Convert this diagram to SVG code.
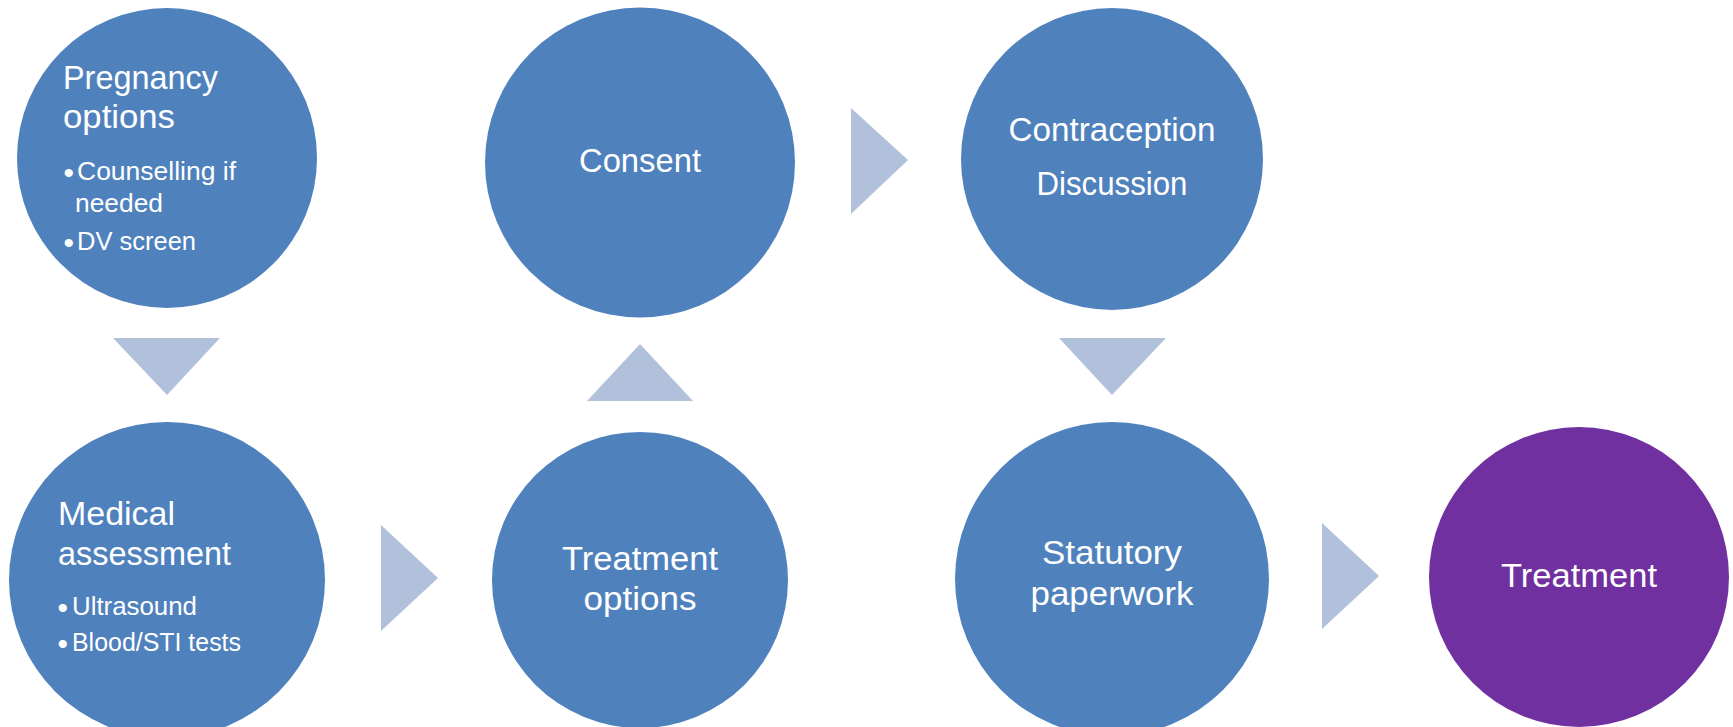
<svg xmlns="http://www.w3.org/2000/svg" width="1733" height="727" viewBox="0 0 1733 727">
<style>
.node{fill:#4F81BD}
.final{fill:#7030A0}
.arrow{fill:#B2C1DB}
text{font-family:"Liberation Sans",Arial,sans-serif;fill:#FFFFFF}
.t{font-size:33px}
.b{font-size:25px}
.dot{font-size:30px}
.c{text-anchor:middle}
</style>
<rect width="1733" height="727" fill="#FFFFFF"/>
<g id="connectors">
<polygon class="arrow" points="113,338 220,338 167,395"/>
<polygon class="arrow" points="381,525 381,631 438,578"/>
<polygon class="arrow" points="587,401 693,401 640,344"/>
<polygon class="arrow" points="851,108 851,214 908,160"/>
<polygon class="arrow" points="1059,338 1166,338 1112,395"/>
<polygon class="arrow" points="1322,523 1322,629 1379,576"/>
</g>
<g id="pregnancy-options">
<circle class="node" cx="167" cy="158" r="150"/>
<text class="t" x="63" y="89" textLength="155" lengthAdjust="spacingAndGlyphs">Pregnancy</text>
<text class="t" x="63" y="128" textLength="112" lengthAdjust="spacingAndGlyphs">options</text>
<text class="b" x="63.5" y="182.5"><tspan class="dot">•</tspan><tspan x="77" y="180" textLength="159" lengthAdjust="spacingAndGlyphs">Counselling if</tspan></text>
<text class="b" x="75" y="212" textLength="88" lengthAdjust="spacingAndGlyphs">needed</text>
<text class="b" x="63.5" y="252.5"><tspan class="dot">•</tspan><tspan x="77" y="250" textLength="119" lengthAdjust="spacingAndGlyphs">DV screen</tspan></text>
</g>
<g id="medical-assessment">
<circle class="node" cx="167" cy="580" r="158"/>
<text class="t" x="58" y="525" textLength="117" lengthAdjust="spacingAndGlyphs">Medical</text>
<text class="t" x="58" y="565" textLength="173" lengthAdjust="spacingAndGlyphs">assessment</text>
<text class="b" x="57.5" y="617.5"><tspan class="dot">•</tspan><tspan x="72" y="615" textLength="125" lengthAdjust="spacingAndGlyphs">Ultrasound</tspan></text>
<text class="b" x="57.5" y="653.5"><tspan class="dot">•</tspan><tspan x="72" y="651" textLength="169" lengthAdjust="spacingAndGlyphs">Blood/STI tests</tspan></text>
</g>
<g id="treatment-options">
<circle class="node" cx="640" cy="580" r="148"/>
<text class="t c" x="640" y="570" textLength="156" lengthAdjust="spacingAndGlyphs">Treatment</text>
<text class="t c" x="640" y="610" textLength="113" lengthAdjust="spacingAndGlyphs">options</text>
</g>
<g id="consent">
<circle class="node" cx="640" cy="162.5" r="155"/>
<text class="t c" x="640" y="172" textLength="122" lengthAdjust="spacingAndGlyphs">Consent</text>
</g>
<g id="contraception-discussion">
<circle class="node" cx="1112" cy="159" r="151"/>
<text class="t c" x="1112" y="141" textLength="207" lengthAdjust="spacingAndGlyphs">Contraception</text>
<text class="t c" x="1112" y="195" textLength="151" lengthAdjust="spacingAndGlyphs">Discussion</text>
</g>
<g id="statutory-paperwork">
<circle class="node" cx="1112" cy="579" r="157"/>
<text class="t c" x="1112" y="564" textLength="140" lengthAdjust="spacingAndGlyphs">Statutory</text>
<text class="t c" x="1112" y="605" textLength="163" lengthAdjust="spacingAndGlyphs">paperwork</text>
</g>
<g id="treatment">
<circle class="final" cx="1579" cy="577" r="150"/>
<text class="t c" x="1579" y="587" textLength="156" lengthAdjust="spacingAndGlyphs">Treatment</text>
</g>
</svg>
